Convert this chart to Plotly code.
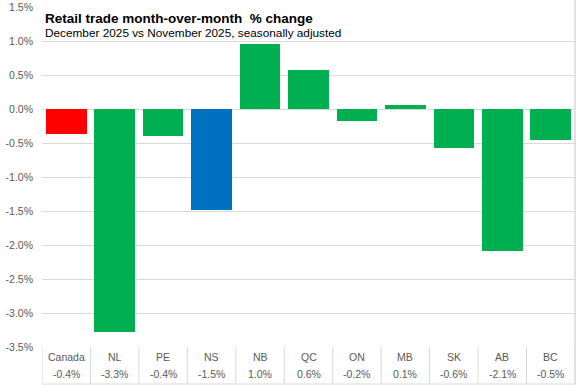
import plotly.graph_objects as go

categories = ["Canada", "NL", "PE", "NS", "NB", "QC", "ON", "MB", "SK", "AB", "BC"]
values = [-0.37, -3.28, -0.40, -1.49, 0.96, 0.57, -0.17, 0.06, -0.57, -2.09, -0.46]
bar_colors = ["#FF0000", "#00B050", "#00B050", "#0070C0", "#00B050", "#00B050",
              "#00B050", "#00B050", "#00B050", "#00B050", "#00B050"]
y_ticks = [1.5, 1.0, 0.5, 0.0, -0.5, -1.0, -1.5, -2.0, -2.5, -3.0, -3.5]
title = "Retail trade month-over-month  % change"
subtitle = "December 2025 vs November 2025, seasonally adjusted"

W, H = 577, 385
ML, MR, MT, MB = 42, 2, 7, 38
plot_h = H - MT - MB

FONT = "Liberation Sans"
GRID = "#D9D9D9"
TXT = "#595959"

fig = go.Figure()
fig.add_trace(go.Bar(
    x=list(range(len(categories))), y=values,
    marker=dict(color=bar_colors, line=dict(width=0)),
    width=0.84, hoverinfo="skip", showlegend=False,
))


def paper_y(px):
    return (H - MB - px) / plot_h


shapes = []
annotations = []
n = len(categories)
for i in range(n + 1):
    shapes.append(dict(type="line", xref="x", yref="paper",
                       x0=i - 0.5, x1=i - 0.5, y0=paper_y(H - 1), y1=0,
                       line=dict(color=GRID, width=1)))
shapes.append(dict(type="line", xref="x", yref="paper", x0=-0.5, x1=n - 0.5,
                   y0=paper_y(H - 1), y1=paper_y(H - 1), line=dict(color=GRID, width=1)))
shapes.append(dict(type="line", xref="paper", yref="paper", x0=1, x1=1,
                   y0=paper_y(H), y1=paper_y(0), line=dict(color=GRID, width=1.5)))

for i, (c, v) in enumerate(zip(categories, values)):
    annotations.append(dict(x=i, xref="x", y=paper_y(357), yref="paper", text=c,
                            showarrow=False, font=dict(family=FONT, size=10.5, color=TXT),
                            xanchor="center", yanchor="middle"))
    annotations.append(dict(x=i, xref="x", y=paper_y(374), yref="paper", text=f"{v:.1f}%",
                            showarrow=False, font=dict(family=FONT, size=10.5, color=TXT),
                            xanchor="center", yanchor="middle"))

annotations.append(dict(x=(43 - ML) / (W - ML - MR), xref="paper", y=paper_y(18), yref="paper",
                        text=f"<b>{title}</b>", showarrow=False, xanchor="left", yanchor="middle",
                        font=dict(family=FONT, size=13.5, color="#000000")))
annotations.append(dict(x=(43 - ML) / (W - ML - MR), xref="paper", y=paper_y(33), yref="paper",
                        text=subtitle, showarrow=False, xanchor="left", yanchor="middle",
                        font=dict(family=FONT, size=11.8, color="#000000")))

fig.update_layout(
    width=W, height=H,
    margin=dict(l=ML, r=MR, t=MT, b=MB),
    paper_bgcolor="white", plot_bgcolor="white",
    bargap=0,
    shapes=shapes, annotations=annotations,
    xaxis=dict(range=[-0.5, n - 0.5], showticklabels=False, showgrid=False,
               zeroline=False, showline=False, fixedrange=True),
    yaxis=dict(range=[-3.5, 1.5], tickvals=y_ticks,
               ticktext=[f"{t:.1f}%" for t in y_ticks],
               showgrid=True, gridcolor=GRID, gridwidth=1,
               zeroline=True, zerolinecolor=GRID, zerolinewidth=1,
               showline=False, ticks="", ticklabelstandoff=8,
               tickfont=dict(family=FONT, size=10.5, color=TXT), fixedrange=True),
)

fig.write_html("out.html", config={"displayModeBar": False},
               post_script="document.body.style.margin='0';document.body.style.overflow='hidden';")
